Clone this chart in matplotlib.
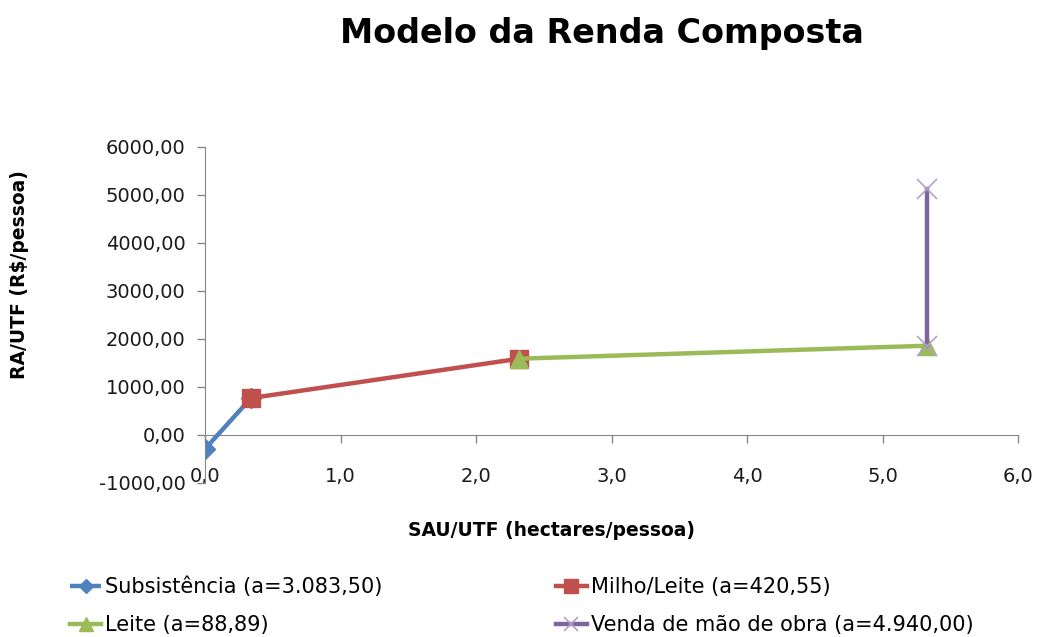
import matplotlib
matplotlib.use("Agg")
import matplotlib.pyplot as plt

plt.rcParams['font.family'] = ['DejaVu Sans']

# Data
subs_x = [0.0, 0.34]
subs_y = [-290.0, 770.0]
milho_x = [0.34, 2.32]
milho_y = [770.0, 1590.0]
leite_x = [2.32, 5.33]
leite_y = [1590.0, 1860.0]
venda_x = [5.33, 5.33]
venda_y = [1860.0, 5120.0]

labels = ["Subsistência (a=3.083,50)", "Milho/Leite (a=420,55)",
          "Leite (a=88,89)", "Venda de mão de obra (a=4.940,00)"]
xticks = [0, 1, 2, 3, 4, 5, 6]
xticklabels = ["0,0", "1,0", "2,0", "3,0", "4,0", "5,0", "6,0"]
yticks = [-1000, 0, 1000, 2000, 3000, 4000, 5000, 6000]
yticklabels = ["-1000,00", "0,00", "1000,00", "2000,00", "3000,00",
               "4000,00", "5000,00", "6000,00"]

W, H = 1037, 637
fig = plt.figure(figsize=(W / 100, H / 100), dpi=100)
ax = fig.add_axes([205 / W, 1 - 483 / H, (1018 - 205) / W, (483 - 147) / H])

lw = 3.2
h1, = ax.plot(subs_x, subs_y, color='#4F81BD', lw=lw, marker='D', ms=10,
              label=labels[0], solid_capstyle='butt')
h2, = ax.plot(milho_x, milho_y, color='#C0504D', lw=lw, marker='s', ms=13,
              label=labels[1])
h3, = ax.plot(leite_x, leite_y, color='#9BBB59', lw=lw, marker='^', ms=13,
              label=labels[2])
h4, = ax.plot(venda_x, venda_y, color='#8064A2', lw=lw, marker='x', ms=14,
              mew=1.2, mec='#B3A2C7', label=labels[3])

ax.set_xlim(0, 6)
ax.set_ylim(-1000, 6000)
ax.set_xticks(xticks)
ax.set_xticklabels(xticklabels)
ax.set_yticks(yticks)
ax.set_yticklabels(yticklabels)

for s in ['top', 'right']:
    ax.spines[s].set_visible(False)
ax.spines['bottom'].set_position(('data', 0))
ax.spines['bottom'].set_color('#868686')
ax.spines['left'].set_color('#868686')
ax.spines['bottom'].set_zorder(0)
ax.tick_params(axis='both', colors='#868686', length=6, width=1,
               labelcolor='#1a1a1a', labelsize=14)
ax.tick_params(axis='x', pad=17)
ax.tick_params(axis='y', pad=8)

fig.text(602 / W, 1 - 33 / H, "Modelo da Renda Composta", ha='center',
         va='center', fontsize=24, fontweight='bold')
fig.text(20 / W, 1 - 275 / H, "RA/UTF (R$/pessoa)", ha='center', va='center',
         rotation=90, fontsize=13.5, fontweight='bold')
fig.text(551 / W, 1 - 530 / H, "SAU/UTF (hectares/pessoa)", ha='center',
         va='center', fontsize=13.5, fontweight='bold')

leg = fig.legend(handles=[h1, h3, h2, h4],
                 labels=[labels[0], labels[2], labels[1], labels[3]],
                 ncol=2, loc='upper left', bbox_to_anchor=(70 / W, 1 - 577 / H),
                 frameon=False, fontsize=15, handlelength=1.5,
                 handletextpad=0.2, columnspacing=8.3, labelspacing=0.85,
                 borderpad=0, borderaxespad=0, markerscale=0.75)

fig.savefig("out.png", dpi=100)
